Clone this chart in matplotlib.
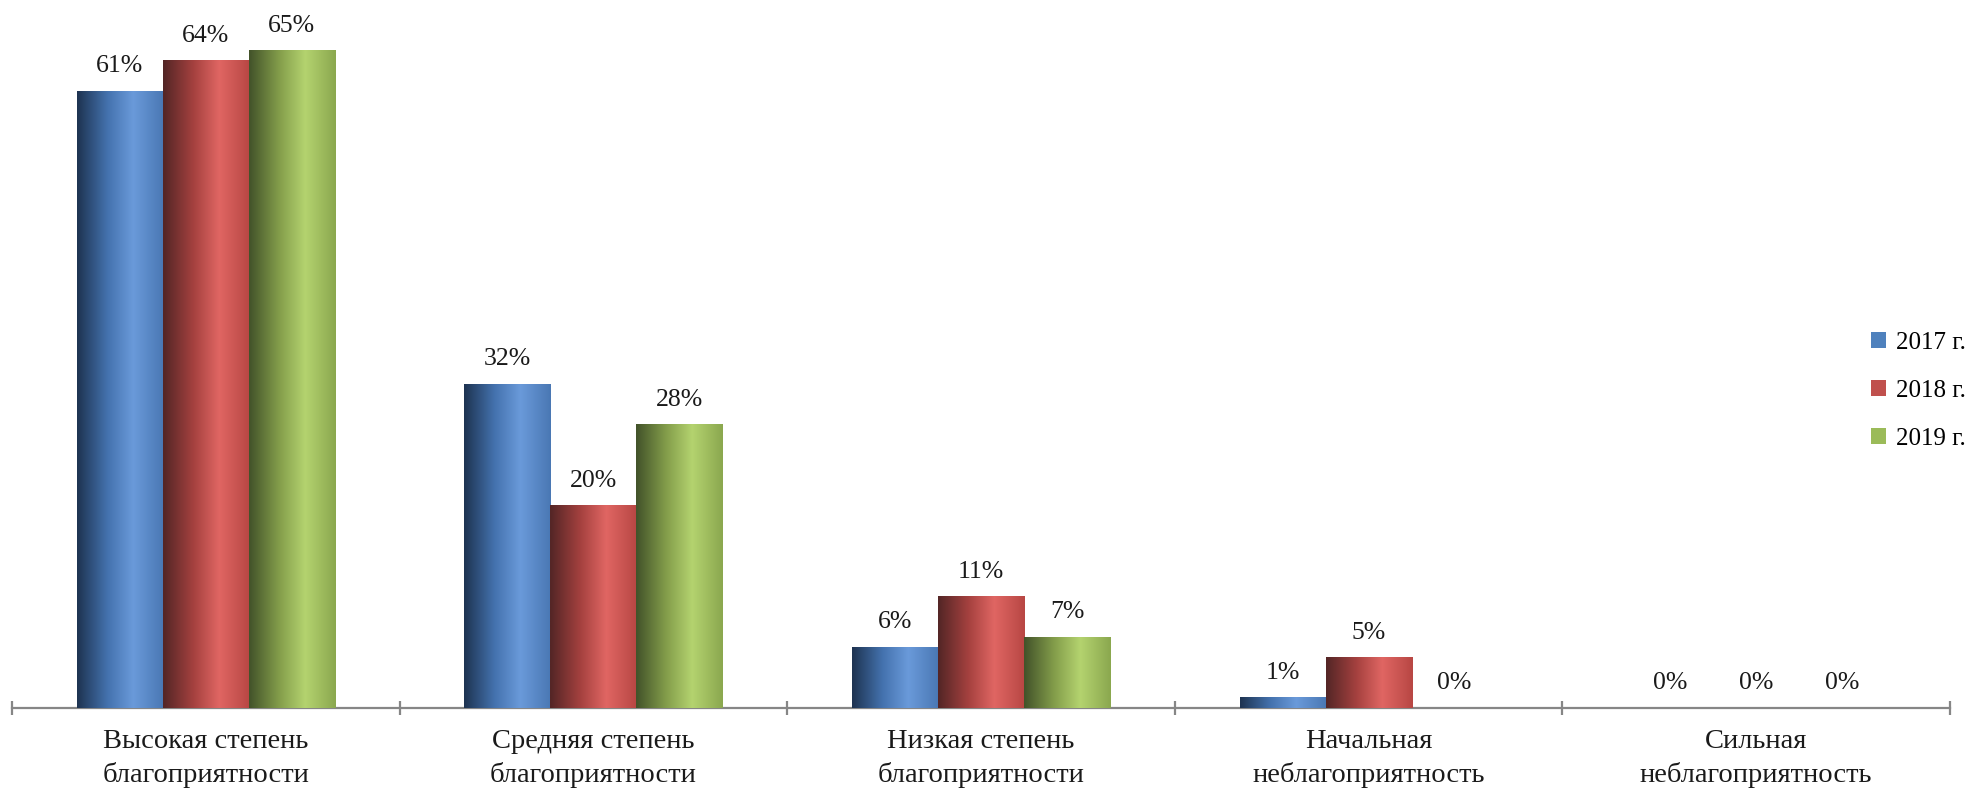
import numpy as np
import matplotlib.pyplot as plt
from matplotlib.patches import Patch
from matplotlib.colors import to_rgb

plt.rcParams['font.family'] = ['Liberation Serif', 'DejaVu Serif']

# Data
categories = ['Высокая степень\nблагоприятности', 'Средняя степень\nблагоприятности',
              'Низкая степень\nблагоприятности', 'Начальная\nнеблагоприятность',
              'Сильная\nнеблагоприятность']
years = ['2017 г.', '2018 г.', '2019 г.']
v2017 = [61, 32, 6, 1, 0]
v2018 = [64, 20, 11, 5, 0]
v2019 = [65, 28, 7, 0, 0]
series = [v2017, v2018, v2019]

# base colour + gradient stops (left dark -> highlight -> right)
base_colors = ['#4F81BD', '#C0504D', '#9BBB59']
grad_stops = [
    ['#1E3452', '#4472AE', '#6A9ADA', '#4A78B4'],
    ['#542626', '#A5413F', '#E06663', '#B84744'],
    ['#43532A', '#849E4B', '#B4D36F', '#8BA84F'],
]
stop_pos = [0.0, 0.35, 0.65, 1.0]

fig = plt.figure(figsize=(19.71, 7.91), dpi=100)
ax = fig.add_axes([12 / 1971, 83 / 791, 1938 / 1971, 708 / 791])

x = np.arange(len(categories))
width = 0.222


def gradient(stops, n=64):
    cols = np.array([to_rgb(c) for c in stops])
    t = np.linspace(0, 1, n)
    img = np.zeros((1, n, 3))
    for k in range(3):
        img[0, :, k] = np.interp(t, stop_pos, cols[:, k])
    return img


for i, vals in enumerate(series):
    bars = ax.bar(x + (i - 1) * width, vals, width, color=base_colors[i], zorder=2)
    img = gradient(grad_stops[i])
    for b, v in zip(bars, vals):
        if v > 0:
            x0 = b.get_x()
            ax.imshow(img, extent=(x0, x0 + b.get_width(), 0, v), aspect='auto',
                      zorder=3, interpolation='bilinear')
        ax.annotate(f'{v}%', (b.get_x() + b.get_width() / 2, v), xytext=(0, 10),
                    textcoords='offset points', ha='center', va='bottom',
                    fontsize=18.5, color='#1a1a1a')

ax.set_xlim(-0.5, len(categories) - 0.5)
ax.set_ylim(0, 70)

for s in ['top', 'right', 'left']:
    ax.spines[s].set_visible(False)
ax.spines['bottom'].set_color('#868686')
ax.spines['bottom'].set_linewidth(1.6)
ax.set_yticks([])

ax.set_xticks(np.arange(-0.5, len(categories)), labels=[''] * (len(categories) + 1))
ax.tick_params(axis='x', which='major', direction='inout', length=10, width=1.6, color='#868686')
ax.set_xticks(x, labels=categories, minor=True)
ax.tick_params(axis='x', which='minor', length=0, pad=15, labelsize=20.5, labelcolor='#1a1a1a')
for lbl in ax.get_xticklabels(minor=True):
    lbl.set_linespacing(1.4)

handles = [Patch(facecolor=c, edgecolor='none') for c in base_colors]
fig.legend(handles, years, loc='center left', bbox_to_anchor=(1871 / 1971, 1 - 391 / 791),
           frameon=False, fontsize=18, handlelength=0.6, handleheight=0.6,
           handletextpad=0.4, labelspacing=1.05, borderpad=0, borderaxespad=0)

fig.savefig('out.png', dpi=100)
